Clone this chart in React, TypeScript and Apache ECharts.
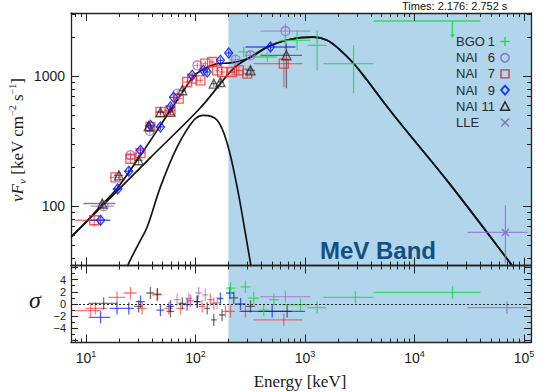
import React, { useEffect, useRef } from 'react';
import * as echarts from 'echarts';

// ---------- axis ranges & ticks ----------
const E_MIN = 7.3;
const E_MAX = 116000;
const F_MIN = 35;
const F_MAX = 3070;
const S_MIN = -6.3;
const S_MAX = 6.3;
const MEV_BAND_START = 200;

const X_MAJOR = [10, 100, 1000, 10000, 100000];
const X_MINOR = [8, 9, 20, 30, 40, 50, 60, 70, 80, 90, 200, 300, 400, 500, 600, 700, 800, 900,
  2000, 3000, 4000, 5000, 6000, 7000, 8000, 9000, 20000, 30000, 40000, 50000, 60000, 70000, 80000, 90000];
const Y_MAJOR = [100, 1000];
const Y_MINOR = [40, 50, 60, 70, 80, 90, 200, 300, 400, 500, 600, 700, 800, 900, 2000, 3000];
const S_MAJOR = [-6, -4, -2, 0, 2, 4, 6];
const S_LABELS = [-4, -2, 0, 2, 4];
const S_MINOR = [-5, -3, -1, 1, 3, 5];

// ---------- model curves [E keV, nuFnu] ----------
const BAND_MODEL: number[][] = [
  [7.33, 58.1], [13.6, 97.5], [38.8, 237], [111, 573], [222, 1146], [318, 1408], [454, 1681],
  [636, 1868], [910, 1984], [1197, 2005], [1594, 1892], [2110, 1585], [2773, 1259], [3700, 931],
  [5212, 634], [7447, 433], [21330, 146], [75300, 36.4], [80000, 34],
];
const BB_MODEL: number[][] = [
  [24, 34], [24.6, 36.5], [30.3, 51.6], [36.2, 69.3], [47.9, 141], [68.1, 286], [96.5, 459], [119, 501],
  [158, 459], [195, 304], [240, 141], [286, 61.7], [318, 36.5], [325, 33],
];
const TOTAL_MODEL: number[][] = [
  [7.33, 58.1], [9.89, 74.8], [14.1, 103.6], [19.3, 137.5], [31.5, 247], [47.9, 420], [68.1, 654],
  [78.2, 780], [95.9, 1000], [111, 1100], [152, 1240], [209, 1270], [270, 1330], [330, 1420],
  [454, 1681], [636, 1868], [910, 1984], [1197, 2005], [1594, 1892], [2110, 1585], [2773, 1259],
  [3700, 931], [5212, 634], [7447, 433], [21330, 146], [75300, 36.4], [80000, 34],
];

// ---------- spectral points [E, Elo, Ehi, F, Flo, Fhi] ----------
const NAI6_POINTS: number[][] = [
  [14.5, 11.0, 18.0, 100, 92, 108],
  [25.5, 23.0, 28.3, 247, 230, 265],
  [38.2, 35.0, 42.0, 380, 358, 402],
  [68.1, 63.0, 73.5, 736, 700, 775],
  [104, 97, 111, 1215, 1150, 1280],
  [232, 210, 255, 1344, 1250, 1440],
  [318, 285, 355, 1451, 1340, 1560],
  [663, 392, 1122, 2230, 1585, 2557],
];
const NAI7_POINTS: number[][] = [
  [11.9, 8.0, 14.5, 78, 70, 86],
  [18.6, 16.5, 20.5, 167, 155, 180],
  [25.5, 23.0, 28.3, 232, 215, 250],
  [31.5, 28.3, 34.9, 256, 238, 275],
  [38.8, 35.0, 43.0, 408, 385, 432],
  [47.9, 43.0, 53.0, 532, 505, 560],
  [59.1, 53.0, 65.5, 548, 520, 578],
  [70.4, 65.5, 76.0, 674, 640, 710],
  [84.0, 78.0, 90.0, 904, 860, 950],
  [93.3, 88.0, 99.0, 960, 910, 1010],
  [111, 104, 118, 931, 885, 980],
  [123, 116, 130, 1252, 1190, 1315],
  [142, 134, 150, 1288, 1220, 1355],
  [158, 150, 166, 1112, 1050, 1175],
  [175, 164, 186, 1079, 1020, 1140],
  [216, 200, 232, 1079, 1015, 1145],
  [249, 232, 267, 1112, 1040, 1185],
  [297, 272, 325, 1049, 970, 1130],
  [641, 339, 949, 1252, 823, 1503],
];
const NAI9_POINTS: number[][] = [
  [13.6, 11.0, 16.7, 78, 71, 85],
  [19.5, 17.5, 21.5, 136, 126, 146],
  [24.6, 22.5, 27.0, 186, 173, 200],
  [31.5, 28.5, 34.5, 270, 252, 290],
  [38.8, 35.5, 42.0, 420, 395, 445],
  [47.9, 44.0, 52.0, 408, 385, 432],
  [59.1, 54.5, 64.0, 581, 550, 612],
  [63.0, 58.0, 68.0, 689, 655, 725],
  [93.3, 87.0, 100, 1018, 965, 1070],
  [118, 111, 125, 1112, 1055, 1170],
  [128, 121, 136, 1079, 1020, 1140],
  [169, 158, 180, 1328, 1255, 1400],
  [201, 188, 215, 1511, 1420, 1600],
  [484, 286, 819, 1681, 1560, 1800],
];
const NAI11_POINTS: number[][] = [
  [14.1, 9.5, 18.6, 105, 98, 112],
  [20.0, 18.0, 22.0, 173, 162, 185],
  [30.2, 27.5, 33.0, 226, 210, 243],
  [37.4, 34.5, 40.5, 413, 390, 437],
  [47.9, 44.0, 52.0, 529, 500, 558],
  [59.1, 54.5, 64.0, 532, 503, 562],
  [75.6, 70.0, 81.5, 780, 740, 822],
  [147, 138, 157, 879, 830, 930],
  [169, 158, 180, 904, 850, 960],
  [318, 290, 350, 1112, 1030, 1200],
  [677, 392, 940, 1451, 809, 1794],
];
const BGO1_POINTS: number[][] = [
  [276, 247, 318, 1539, 1400, 1680],
  [454, 330, 555, 1408, 1290, 1530],
  [847, 597, 1122, 1892, 1585, 2259],
  [1293, 1050, 1570, 1731, 1112, 2259],
  [2780, 1476, 4226, 1252, 740, 1731],
];
// upper limit [E, Elo, Ehi, F, arrow tip F]
const BGO1_UPPER_LIMIT: number[][] = [[22230, 4226, 40080, 2660, 1961]];
const LLE_POINTS: number[][] = [[67750, 30480, 107600, 62.9, 36.5, 101.8]];

// ---------- residuals [E, Elo, Ehi, sigma, err] ----------
const NAI6_RESID: number[][] = [
  [68.0, 63.0, 73.5, 0.7, 1], [87.0, 81.0, 93.0, 0.9, 1], [107, 100, 114, 1.8, 1],
  [123, 115, 131, 1.5, 1], [158, 148, 168, 0.2, 1], [663, 392, 1122, 1.2, 1],
];
const NAI7_RESID: number[][] = [
  [11.0, 7.75, 13.6, -1.1, 1], [12.2, 9.9, 15.6, -0.7, 1], [19.2, 16.0, 23.0, 1.1, 1],
  [25.5, 22.0, 29.0, 1.8, 1], [32.6, 29.0, 36.0, -0.7, 1], [44.7, 40.0, 50.0, 1.5, 1],
  [57.0, 52.0, 62.0, -0.7, 1], [73.0, 67.0, 80.0, -0.7, 1], [90.0, 84.0, 97.0, 0.5, 1],
  [115, 107, 123, -0.4, 1], [137, 128, 146, 0.7, 1], [147, 138, 157, 0.1, 1],
  [188, 176, 200, -1.2, 1], [209, 190, 230, -1.2, 1], [286, 250, 330, -1.2, 1],
  [641, 339, 949, -2.6, 1],
];
const NAI9_RESID: number[][] = [
  [13.6, 10.6, 16.7, -2.2, 1], [19.2, 16.5, 22.0, -0.7, 1], [24.6, 22.0, 27.5, -0.7, 1],
  [31.5, 28.5, 34.5, 0.4, 1], [47.9, 44.0, 52.0, -1.0, 1], [59.1, 54.5, 64.0, -0.4, 1],
  [84.0, 78.0, 90.0, -0.1, 1], [104, 97, 111, 0.4, 1], [169, 158, 180, 0.9, 1],
  [206, 190, 222, 1.8, 1], [258, 232, 286, 0.0, 1], [502, 258, 760, -1.2, 1],
];
const NAI11_RESID: number[][] = [
  [14.5, 10.5, 19.0, 0.1, 1], [30.3, 27.5, 33.0, -0.4, 1], [38.8, 35.5, 42.0, 1.8, 1],
  [45.0, 41.5, 48.5, 1.6, 1], [59.1, 54.5, 64.0, -1.2, 1], [76.0, 70.0, 82.0, 0.1, 1],
  [104, 97, 111, 0.4, 1], [128, 120, 136, -0.7, 1], [147, 138, 157, -2.6, 1],
  [175, 164, 186, -1.8, 1], [224, 205, 245, 1.0, 1], [318, 290, 350, -0.4, 1],
  [688, 376, 1000, -1.2, 1],
];
const BGO1_RESID: number[][] = [
  [209, 190, 232, 2.6, 1], [286, 258, 318, 2.8, 1], [341, 300, 380, 0.95, 1],
  [420, 380, 470, -1.0, 1], [520, 470, 580, 0.7, 1], [910, 620, 1122, -0.1, 1],
  [1293, 1050, 1570, -0.6, 1], [2890, 1476, 4226, 1.1, 1], [22230, 4226, 40080, 1.9, 1],
];
const LLE_RESID: number[][] = [[70000, 30480, 107600, -0.6, 1]];

// ---------- texts ----------
const TIMES_TEXT = 'Times: 2.176: 2.752 s';
const BAND_LABEL = 'MeV Band';
const X_TITLE = 'Energy [keV]';
const LEGEND_ITEMS = [
  { name: 'BGO', num: '1', symbol: 'plus', color: '#2fd35a' },
  { name: 'NAI', num: '6', symbol: 'circle', color: '#8c6cc0' },
  { name: 'NAI', num: '7', symbol: 'square', color: '#c23a48' },
  { name: 'NAI', num: '9', symbol: 'diamond', color: '#1438ff' },
  { name: 'NAI', num: '11', symbol: 'triangle', color: '#2a2a2a' },
  { name: 'LLE', num: '', symbol: 'cross', color: '#8a6ac8' },
];

const COLORS = {
  bgo: '#22d651',
  nai6: '#9a62c8',
  nai7: '#ff1f1f',
  nai9: '#0a1cff',
  nai11: '#1a1a1a',
  lle: '#8a6ac8',
  band: '#b1d5ea',
  frame: '#222222',
  model: '#141414',
};

const SANS = '"Liberation Sans", Arial, Helvetica, sans-serif';
const SERIF = '"Liberation Serif", "Times New Roman", serif';

function crossRender(color: string, opacity: number) {
  return (_p: any, api: any) => {
    const x = api.value(0), xl = api.value(1), xh = api.value(2);
    const y = api.value(3), yl = api.value(4), yh = api.value(5);
    const c = api.coord([x, y]);
    const l = api.coord([xl, y]);
    const r = api.coord([xh, y]);
    const b = api.coord([x, yl]);
    const t = api.coord([x, yh]);
    const st = { stroke: color, lineWidth: 1.3, opacity };
    return {
      type: 'group',
      children: [
        { type: 'line', shape: { x1: l[0], y1: c[1], x2: r[0], y2: c[1] }, style: st },
        { type: 'line', shape: { x1: c[0], y1: b[1], x2: c[0], y2: t[1] }, style: st },
      ],
    };
  };
}

function errSeries(name: string, data: number[][], color: string, xi: number, yi: number, opacity = 0.7) {
  return {
    type: 'custom',
    name,
    xAxisIndex: xi,
    yAxisIndex: yi,
    data,
    encode: { x: [0, 1, 2], y: [3, 4, 5] },
    renderItem: crossRender(color, opacity),
    clip: true,
    silent: true,
    z: 3,
  };
}

function markerSeries(name: string, data: number[][], color: string, symbol: string, size: any, opacity = 0.75) {
  return {
    type: 'scatter',
    name,
    xAxisIndex: 0,
    yAxisIndex: 0,
    data: data.map((d) => [d[0], d[3]]),
    symbol,
    symbolSize: size,
    itemStyle: { color: 'rgba(0,0,0,0)', borderColor: color, borderWidth: 1.3, opacity },
    silent: true,
    z: 4,
  };
}

function residRows(rows: number[][]) {
  return rows.map((r) => [r[0], r[1], r[2], r[3], r[3] - r[4], r[3] + r[4]]);
}

function makeAxis(gridIndex: number, position: string, type: string, min: number, max: number,
  ticks: number[], tickLen: number, withLine: boolean, label?: any) {
  return {
    type,
    gridIndex,
    position,
    min,
    max,
    z: 6,
    splitLine: { show: false },
    axisPointer: { show: false },
    axisLine: { show: withLine, onZero: false, lineStyle: { color: COLORS.frame, width: 1.3 } },
    axisTick: { show: true, inside: true, length: tickLen, customValues: ticks, lineStyle: { color: COLORS.frame, width: 1 } },
    axisLabel: label ? label : { show: false },
  };
}

export default function App() {
  const ref = useRef<HTMLDivElement>(null);

  useEffect(() => {
    if (!ref.current) return;
    const chart = echarts.init(ref.current, undefined, { renderer: 'svg' });

    const xLabel = {
      show: true,
      customValues: X_MAJOR,
      margin: 7,
      formatter: (v: number) => `{b|10}{s|${Math.round(Math.log10(v))}}`,
      rich: {
        b: { fontFamily: SANS, fontSize: 14, color: '#1a1a1a', lineHeight: 16 },
        s: { fontFamily: SANS, fontSize: 9, color: '#1a1a1a', lineHeight: 9, verticalAlign: 'top' },
      },
    };
    const yLabel = {
      show: true,
      customValues: Y_MAJOR,
      margin: 6,
      fontFamily: SANS,
      fontSize: 14,
      color: '#1a1a1a',
      formatter: (v: number) => String(Math.round(v)),
    };
    const sLabel = {
      show: true,
      customValues: S_LABELS,
      margin: 5,
      fontFamily: SANS,
      fontSize: 11,
      lineHeight: 11,
      color: '#1a1a1a',
      formatter: (v: number) => (v < 0 ? '\u2212' + Math.abs(v) : String(v)),
    };

    const xAxes = [
      makeAxis(0, 'bottom', 'log', E_MIN, E_MAX, X_MAJOR, 8, true),
      makeAxis(0, 'bottom', 'log', E_MIN, E_MAX, X_MINOR, 4, false),
      makeAxis(0, 'top', 'log', E_MIN, E_MAX, X_MAJOR, 8, true),
      makeAxis(0, 'top', 'log', E_MIN, E_MAX, X_MINOR, 4, false),
      makeAxis(1, 'bottom', 'log', E_MIN, E_MAX, X_MAJOR, 8, true, xLabel),
      makeAxis(1, 'bottom', 'log', E_MIN, E_MAX, X_MINOR, 4, false),
      makeAxis(1, 'top', 'log', E_MIN, E_MAX, X_MAJOR, 8, true),
      makeAxis(1, 'top', 'log', E_MIN, E_MAX, X_MINOR, 4, false),
    ];
    const yAxes = [
      makeAxis(0, 'left', 'log', F_MIN, F_MAX, Y_MAJOR, 8, true, yLabel),
      makeAxis(0, 'left', 'log', F_MIN, F_MAX, Y_MINOR, 4, false),
      makeAxis(0, 'right', 'log', F_MIN, F_MAX, Y_MAJOR, 8, true),
      makeAxis(0, 'right', 'log', F_MIN, F_MAX, Y_MINOR, 4, false),
      makeAxis(1, 'left', 'value', S_MIN, S_MAX, S_MAJOR, 7, true, sLabel),
      makeAxis(1, 'left', 'value', S_MIN, S_MAX, S_MINOR, 4, false),
      makeAxis(1, 'right', 'value', S_MIN, S_MAX, S_MAJOR, 7, true),
      makeAxis(1, 'right', 'value', S_MIN, S_MAX, S_MINOR, 4, false),
    ];

    const bandArea = (xi: number, yi: number, pt: number[]) => ({
      type: 'line',
      xAxisIndex: xi,
      yAxisIndex: yi,
      data: [pt],
      symbol: 'none',
      lineStyle: { opacity: 0 },
      silent: true,
      z: 0,
      markArea: {
        silent: true,
        z: 0,
        itemStyle: { color: COLORS.band },
        data: [[{ xAxis: MEV_BAND_START }, { xAxis: E_MAX }]],
      },
    });

    const modelLine = (data: number[][]) => ({
      type: 'line',
      xAxisIndex: 0,
      yAxisIndex: 0,
      data,
      smooth: 0.35,
      symbol: 'none',
      silent: true,
      lineStyle: { color: COLORS.model, width: 1.7 },
      z: 2,
    });

    const ulSeries = {
      type: 'custom',
      xAxisIndex: 0,
      yAxisIndex: 0,
      data: BGO1_UPPER_LIMIT,
      encode: { x: [0, 1, 2], y: [3, 4] },
      clip: true,
      silent: true,
      z: 3,
      renderItem: (_p: any, api: any) => {
        const c = api.coord([api.value(0), api.value(3)]);
        const l = api.coord([api.value(1), api.value(3)]);
        const r = api.coord([api.value(2), api.value(3)]);
        const tip = api.coord([api.value(0), api.value(4)]);
        const st = { stroke: COLORS.bgo, lineWidth: 1.5, opacity: 0.85 };
        return {
          type: 'group',
          children: [
            { type: 'line', shape: { x1: l[0], y1: c[1], x2: r[0], y2: c[1] }, style: st },
            { type: 'line', shape: { x1: c[0], y1: c[1], x2: c[0], y2: tip[1] - 3 }, style: st },
            {
              type: 'polygon',
              shape: { points: [[c[0] - 2.5, tip[1] - 4], [c[0] + 2.5, tip[1] - 4], [c[0], tip[1]]] },
              style: { fill: COLORS.bgo, opacity: 0.85 },
            },
          ],
        };
      },
    };

    const zeroLine = {
      type: 'line',
      xAxisIndex: 4,
      yAxisIndex: 4,
      data: [],
      symbol: 'none',
      silent: true,
      z: 2,
      markLine: {
        silent: true,
        symbol: ['none', 'none'],
        label: { show: false },
        lineStyle: { color: '#222', width: 1.2, type: [2, 2] },
        data: [{ yAxis: 0 }],
      },
    };

    const series: any[] = [
      bandArea(0, 0, [MEV_BAND_START, 100]),
      bandArea(4, 4, [MEV_BAND_START, 0]),
      modelLine(BAND_MODEL),
      modelLine(BB_MODEL),
      modelLine(TOTAL_MODEL),
      errSeries('NAI 6', NAI6_POINTS, COLORS.nai6, 0, 0, 0.6),
      errSeries('NAI 7', NAI7_POINTS, COLORS.nai7, 0, 0, 0.6),
      errSeries('NAI 9', NAI9_POINTS, COLORS.nai9, 0, 0, 0.7),
      errSeries('NAI11', NAI11_POINTS, COLORS.nai11, 0, 0, 0.55),
      errSeries('BGO 1', BGO1_POINTS, COLORS.bgo, 0, 0, 0.8),
      errSeries('LLE', LLE_POINTS, COLORS.lle, 0, 0, 0.75),
      ulSeries,
      markerSeries('NAI 6 m', NAI6_POINTS, COLORS.nai6, 'circle', 9),
      markerSeries('NAI 7 m', NAI7_POINTS, COLORS.nai7, 'rect', 9),
      markerSeries('NAI 9 m', NAI9_POINTS, COLORS.nai9, 'diamond', [8, 10], 0.85),
      markerSeries('NAI11 m', NAI11_POINTS, COLORS.nai11, 'triangle', 9, 0.7),
      markerSeries('LLE m', LLE_POINTS, COLORS.lle, 'path://M0,0L10,10M10,0L0,10', 7, 0.9),
      zeroLine,
      errSeries('NAI 6 r', residRows(NAI6_RESID), COLORS.nai6, 4, 4, 0.6),
      errSeries('NAI 7 r', residRows(NAI7_RESID), COLORS.nai7, 4, 4, 0.6),
      errSeries('NAI 9 r', residRows(NAI9_RESID), COLORS.nai9, 4, 4, 0.7),
      errSeries('NAI11 r', residRows(NAI11_RESID), COLORS.nai11, 4, 4, 0.6),
      errSeries('BGO 1 r', residRows(BGO1_RESID), COLORS.bgo, 4, 4, 0.8),
      errSeries('LLE r', residRows(LLE_RESID), COLORS.lle, 4, 4, 0.75),
    ];

    const legendGraphics: any[] = [];
    LEGEND_ITEMS.forEach((it, i) => {
      const y = 41.5 + i * 16.2;
      const sx = 505;
      legendGraphics.push({
        type: 'text', x: 456, y,
        style: { text: it.name, font: `13px ${SANS}`, fill: '#2a2a2a', align: 'left', verticalAlign: 'middle' },
      });
      if (it.num) {
        legendGraphics.push({
          type: 'text', x: 495, y,
          style: { text: it.num, font: `13px ${SANS}`, fill: '#2a2a2a', align: 'right', verticalAlign: 'middle' },
        });
      }
      const st = { stroke: it.color, lineWidth: 1.4, fill: 'none' };
      if (it.symbol === 'plus') {
        legendGraphics.push({ type: 'line', shape: { x1: sx - 4.5, y1: y, x2: sx + 4.5, y2: y }, style: st });
        legendGraphics.push({ type: 'line', shape: { x1: sx, y1: y - 4.5, x2: sx, y2: y + 4.5 }, style: st });
      } else if (it.symbol === 'circle') {
        legendGraphics.push({ type: 'circle', shape: { cx: sx, cy: y, r: 4.2 }, style: st });
      } else if (it.symbol === 'square') {
        legendGraphics.push({ type: 'rect', shape: { x: sx - 4, y: y - 4, width: 8, height: 8 }, style: st });
      } else if (it.symbol === 'diamond') {
        legendGraphics.push({ type: 'polygon', shape: { points: [[sx, y - 4.5], [sx + 4, y], [sx, y + 4.5], [sx - 4, y]] }, style: { ...st, lineWidth: 1.8 } });
      } else if (it.symbol === 'triangle') {
        legendGraphics.push({ type: 'polygon', shape: { points: [[sx, y - 4.5], [sx + 4.5, y + 4], [sx - 4.5, y + 4]] }, style: st });
      } else if (it.symbol === 'cross') {
        legendGraphics.push({ type: 'line', shape: { x1: sx - 4, y1: y - 4, x2: sx + 4, y2: y + 4 }, style: st });
        legendGraphics.push({ type: 'line', shape: { x1: sx + 4, y1: y - 4, x2: sx - 4, y2: y + 4 }, style: st });
      }
    });

    const graphic: any[] = [
      {
        type: 'text', x: 402, y: 6, z: 10,
        style: { text: TIMES_TEXT, font: `11px ${SANS}`, fill: '#111', align: 'left', verticalAlign: 'middle' },
      },
      {
        type: 'text', x: 378, y: 250, z: 10,
        style: { text: BAND_LABEL, font: `bold 24px ${SANS}`, fill: '#134f82', align: 'center', verticalAlign: 'middle' },
      },
      {
        type: 'text', x: 300, y: 381, z: 10,
        style: { text: X_TITLE, font: `17px ${SERIF}`, fill: '#1a1a1a', align: 'center', verticalAlign: 'middle' },
      },
      {
        type: 'text', x: 35, y: 300, z: 10,
        style: { text: '\u03c3', font: `italic 24px ${SERIF}`, fill: '#1a1a1a', align: 'center', verticalAlign: 'middle' },
      },
      {
        type: 'text', x: 17, y: 140, rotation: Math.PI / 2, z: 10,
        style: {
          text: '{i|\u03bdF}{sub|\u03bd}{n| [keV cm}{sup|\u22122}{n| s}{sup|\u22121}{n|]}',
          align: 'center',
          verticalAlign: 'middle',
          fill: '#1a1a1a',
          rich: {
            i: { fontFamily: SERIF, fontStyle: 'italic', fontSize: 17, lineHeight: 20, fill: '#1a1a1a' },
            n: { fontFamily: SERIF, fontSize: 17, lineHeight: 20, fill: '#1a1a1a' },
            sub: { fontFamily: SERIF, fontStyle: 'italic', fontSize: 11, lineHeight: 11, verticalAlign: 'bottom', fill: '#1a1a1a' },
            sup: { fontFamily: SERIF, fontSize: 10, lineHeight: 10, verticalAlign: 'top', fill: '#1a1a1a' },
          },
        },
      },
      ...legendGraphics.map((g) => ({ ...g, z: 10 })),
    ];

    chart.setOption({
      animation: false,
      backgroundColor: '#ffffff',
      grid: [
        { left: 71, top: 13, width: 460, height: 252.5 },
        { left: 71, top: 265.5, width: 460, height: 77 },
      ],
      xAxis: xAxes,
      yAxis: yAxes,
      series,
      graphic,
    });

    return () => {
      chart.dispose();
    };
  }, []);

  return (
    <div
      ref={ref}
      style={{ position: 'fixed', left: 0, top: 0, width: 551, height: 392, background: '#fff' }}
    />
  );
}
